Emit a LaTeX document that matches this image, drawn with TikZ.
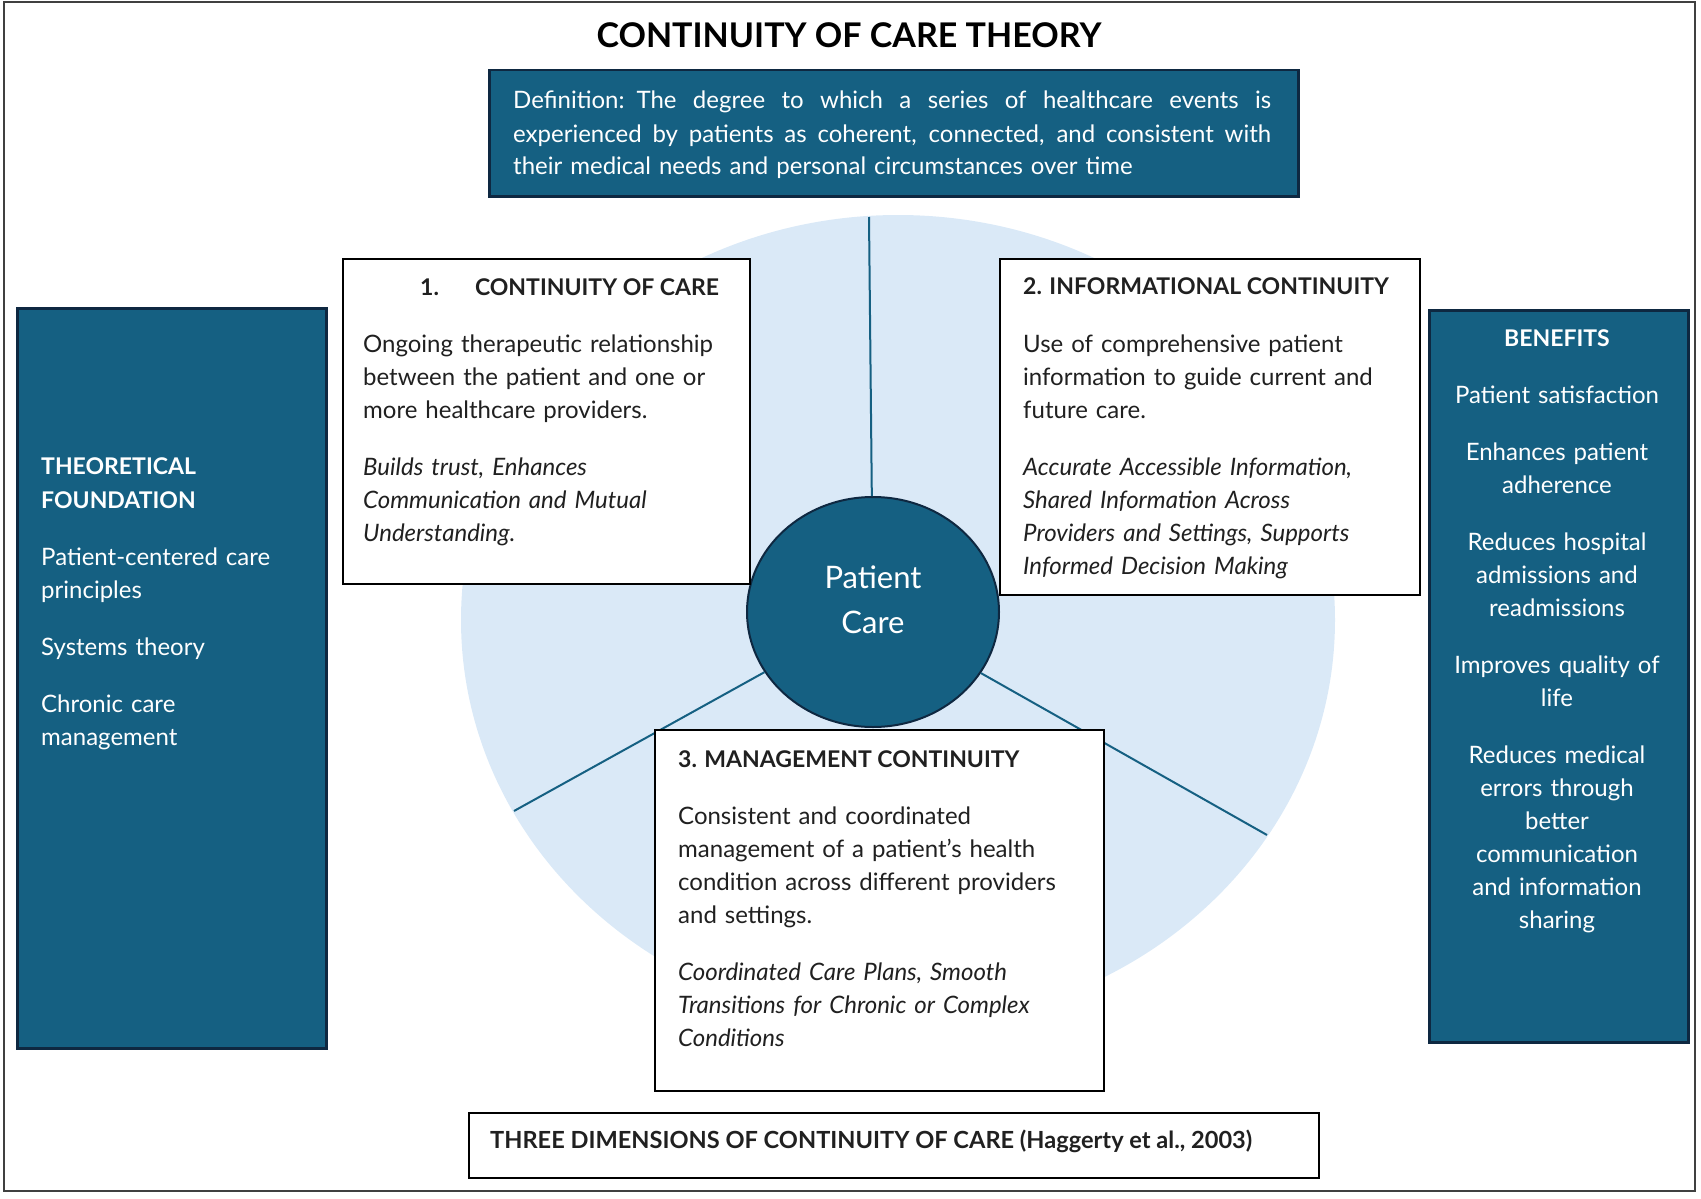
\documentclass[tikz,border=0pt]{standalone}
\usepackage{fontspec}
\setmainfont{Lato}
\usetikzlibrary{shapes.geometric}

\definecolor{cocblue}{RGB}{21,96,130}
\definecolor{cocnavy}{RGB}{14,40,65}
\definecolor{cochalo}{RGB}{218,233,247}
\definecolor{cocink}{RGB}{32,32,32}
\newcommand{\cochead}{\fontsize{23}{33}\selectfont\bfseries}
\newcommand{\cocspread}[1]{\makebox[758pt][s]{\spaceskip=0.25em plus 1fil\relax #1}}

\begin{document}
\begin{tikzpicture}[x=1pt, y=-1pt,
    whitebox/.style={draw=black, line width=2pt, fill=white, anchor=north west, inner sep=0pt},
    darkbox/.style={draw=cocnavy, line width=2.5pt, fill=cocblue, anchor=north west, inner sep=0pt},
    body/.style={anchor=base west, inner sep=0pt, align=left, text=cocink, font=\fontsize{24}{33}\selectfont},
    head/.style={anchor=base west, inner sep=0pt, text=cocink, font=\cochead},
    spoke/.style={draw=cocblue, line width=2pt}]
    \useasboundingbox (0,0) rectangle (1701,1199);
    \draw[line width=1.5pt, black!75] (4,2) rectangle (1695,1191);

    \node[anchor=base, inner sep=0pt, font=\fontsize{34}{40}\selectfont\bfseries] (title) at (849,48) {CONTINUITY OF CARE THEORY};

    \node[darkbox, minimum width=809, minimum height=126] (defbox) at (488,69) {};
    \node[body, text=white, text width=760] (deftxt) at (513,109)
        {\cocspread{Definition: The degree to which a series of healthcare events is}\\
         \cocspread{experienced by patients as coherent, connected, and consistent with}\\
         their medical needs and personal circumstances over time};

    % background disc and spokes
    \fill[cochalo] (898,620) ellipse [x radius=437, y radius=405];
    \node[ellipse, draw=cocnavy, line width=2pt, fill=cocblue, minimum width=252, minimum height=230] (pc) at (873,612) {};
    \node[anchor=base, inner sep=0pt, align=center, text width=200, text=white, font=\fontsize{31}{45}\selectfont] (pctxt) at (873,588) {Patient\\ Care};
    \coordinate (s1) at (869,217);
    \coordinate (s2) at (514,811);
    \coordinate (s3) at (1267,835);
    \draw[spoke] (pc) -- (s1);
    \draw[spoke] (pc) -- (s2);
    \draw[spoke] (pc) -- (s3);

    % the three dimensions
    \node[whitebox, minimum width=407, minimum height=325] (dim1) at (342,258) {};
    \node[head] (hd1) at (420,295) {1.\hspace{36pt}CONTINUITY OF CARE};
    \node[body, text width=380] (tx1) at (363,352)
        {Ongoing therapeutic relationship\\ between the patient and one or\\ more healthcare providers.\\[24pt]
         {\itshape Builds trust, Enhances\\ Communication and Mutual\\ Understanding.}};

    \node[whitebox, minimum width=420, minimum height=336] (dim2) at (999,258) {};
    \node[head] (hd2) at (1023,294) {2. INFORMATIONAL CONTINUITY};
    \node[body, text width=390] (tx2) at (1023,352)
        {Use of comprehensive patient\\ information to guide current and\\ future care.\\[24pt]
         {\itshape Accurate Accessible Information,\\ Shared Information Across\\ Providers and Settings, Supports\\ Informed Decision Making}};

    \node[whitebox, minimum width=449, minimum height=361] (dim3) at (654,729) {};
    \node[head] (hd3) at (678,767) {3. MANAGEMENT CONTINUITY};
    \node[body, text width=420] (tx3) at (678,824)
        {Consistent and coordinated\\ management of a patient’s health\\ condition across different providers\\ and settings.\\[24pt]
         {\itshape Coordinated Care Plans, Smooth\\ Transitions for Chronic or Complex\\ Conditions}};

    \node[whitebox, minimum width=850, minimum height=65] (dims) at (468,1112) {};
    \node[head, font=\fontsize{23.6}{33}\selectfont\bfseries] (dimstxt) at (490,1148) {THREE DIMENSIONS OF CONTINUITY OF CARE (Haggerty et al., 2003)};

    % side panels
    \node[darkbox, minimum width=309, minimum height=740] (found) at (16,307) {};
    \node[body, text=white, text width=280] (foundtxt) at (41,474)
        {{\cochead THEORETICAL\\[1pt] FOUNDATION}\\[24pt]
         Patient-centered care\\ principles\\[24pt] Systems theory\\[24pt] Chronic care\\ management};

    \node[darkbox, minimum width=259, minimum height=732] (bene) at (1428,309) {};
    \node[body, anchor=base, align=center, text=white, text width=250] (benetxt) at (1557,346)
        {{\cochead BENEFITS}\\[24pt] Patient satisfaction\\[24pt] Enhances patient\\ adherence\\[24pt]
         Reduces hospital\\ admissions and\\ readmissions\\[24pt] Improves quality of\\ life\\[24pt]
         Reduces medical\\ errors through\\ better\\ communication\\ and information\\ sharing};
\end{tikzpicture}
\end{document}
